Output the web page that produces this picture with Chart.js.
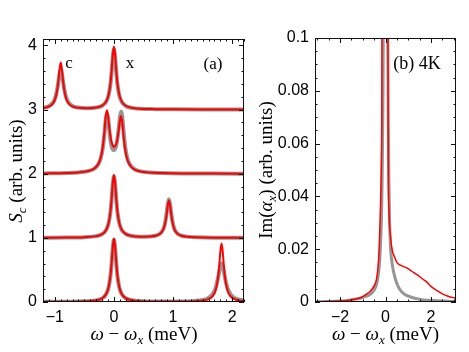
<!DOCTYPE html>
<html>
<head>
<meta charset="utf-8">
<script src="https://cdn.jsdelivr.net/npm/chart.js@4/dist/chart.umd.min.js"></script>
<style>
  html, body { margin: 0; padding: 0; background: #fff; }
  #wrap { position: relative; width: 469px; height: 352px; background: #fff; }
  canvas { position: absolute; top: 0; }
</style>
</head>
<body>
<div id="wrap">
  <canvas id="leftChart" width="250" height="352" style="left:0"></canvas>
  <canvas id="rightChart" width="219" height="352" style="left:250px"></canvas>
</div>
<script>
// ---- panel (a): S_c spectra, offset by 0,1,2,3 ----
var wTop  = [-1.2, -1.1, -1.03, -0.99, -0.96, -0.94, -0.92, -0.9, -0.88, -0.86, -0.84, -0.81, -0.77, -0.7, -0.6, -0.45, -0.3, -0.2, -0.13, -0.09, -0.06, -0.04, -0.02, 0, 0.02, 0.04, 0.06, 0.09, 0.13, 0.2, 0.3, 0.45, 0.7, 1.0, 1.5, 2.2];
var redTop  = [3.021, 3.045, 3.096, 3.174, 3.302, 3.448, 3.632, 3.733, 3.632, 3.448, 3.302, 3.175, 3.098, 3.048, 3.027, 3.021, 3.032, 3.062, 3.129, 3.234, 3.404, 3.600, 3.847, 3.982, 3.847, 3.599, 3.403, 3.233, 3.128, 3.059, 3.028, 3.013, 3.006, 3.003, 3.001, 3.0];
var grayTop = [3.026, 3.053, 3.111, 3.193, 3.313, 3.432, 3.561, 3.623, 3.561, 3.432, 3.313, 3.194, 3.113, 3.056, 3.031, 3.022, 3.031, 3.060, 3.124, 3.225, 3.387, 3.575, 3.812, 3.942, 3.812, 3.575, 3.387, 3.223, 3.122, 3.056, 3.026, 3.012, 3.006, 3.003, 3.001, 3.0];

var wPair = [-1.2, -0.8, -0.6, -0.45, -0.35, -0.28, -0.23, -0.19, -0.16, -0.14, -0.12, -0.1, -0.08, -0.05, -0.02, 0, 0.02, 0.05, 0.08, 0.1, 0.12, 0.14, 0.16, 0.19, 0.23, 0.28, 0.35, 0.45, 0.6, 0.8, 1.2, 1.7, 2.2];
var redPair  = [2.005, 2.011, 2.02, 2.038, 2.07, 2.13, 2.23, 2.41, 2.67, 2.88, 2.99, 2.91, 2.74, 2.53, 2.44, 2.42, 2.43, 2.50, 2.67, 2.82, 2.90, 2.81, 2.61, 2.37, 2.21, 2.12, 2.065, 2.035, 2.018, 2.01, 2.004, 2.002, 2.001];
var grayPair = [2.005, 2.011, 2.02, 2.038, 2.068, 2.125, 2.22, 2.39, 2.63, 2.83, 2.93, 2.87, 2.69, 2.47, 2.38, 2.37, 2.39, 2.49, 2.70, 2.87, 2.97, 2.90, 2.69, 2.42, 2.23, 2.13, 2.07, 2.037, 2.019, 2.01, 2.004, 2.002, 2.001];

var wMid = [-1.2, -0.8, -0.5, -0.3, -0.2, -0.13, -0.09, -0.06, -0.04, -0.02, 0, 0.02, 0.04, 0.06, 0.09, 0.13, 0.2, 0.3, 0.45, 0.6, 0.72, 0.8, 0.84, 0.87, 0.89, 0.91, 0.93, 0.95, 0.97, 0.99, 1.02, 1.06, 1.13, 1.23, 1.4, 1.7, 2.2];
var redMid  = [1.002, 1.004, 1.011, 1.027, 1.059, 1.127, 1.232, 1.403, 1.599, 1.846, 1.981, 1.846, 1.600, 1.404, 1.233, 1.128, 1.061, 1.030, 1.018, 1.020, 1.036, 1.079, 1.14, 1.241, 1.357, 1.503, 1.583, 1.503, 1.357, 1.241, 1.139, 1.077, 1.036, 1.018, 1.008, 1.003, 1.002];
var grayMid = [1.002, 1.004, 1.011, 1.027, 1.058, 1.125, 1.228, 1.395, 1.587, 1.829, 1.961, 1.829, 1.588, 1.397, 1.229, 1.126, 1.060, 1.030, 1.018, 1.021, 1.038, 1.083, 1.147, 1.255, 1.375, 1.524, 1.603, 1.524, 1.375, 1.255, 1.145, 1.080, 1.038, 1.019, 1.009, 1.003, 1.002];

var wLow = [-1.2, -0.8, -0.5, -0.3, -0.2, -0.13, -0.09, -0.06, -0.04, -0.02, 0, 0.02, 0.04, 0.06, 0.09, 0.13, 0.2, 0.3, 0.5, 0.8, 1.1, 1.35, 1.5, 1.6, 1.67, 1.72, 1.76, 1.78, 1.8, 1.82, 1.84, 1.86, 1.88, 1.92, 1.97, 2.04, 2.12, 2.2];
var redLow  = [0.002, 0.004, 0.010, 0.027, 0.058, 0.128, 0.234, 0.406, 0.604, 0.853, 0.990, 0.854, 0.605, 0.407, 0.235, 0.129, 0.060, 0.028, 0.011, 0.006, 0.006, 0.012, 0.023, 0.046, 0.092, 0.183, 0.374, 0.556, 0.785, 0.911, 0.785, 0.556, 0.374, 0.183, 0.092, 0.045, 0.025, 0.016];
var grayLow = [0.002, 0.004, 0.010, 0.026, 0.057, 0.125, 0.229, 0.398, 0.592, 0.836, 0.970, 0.837, 0.593, 0.399, 0.230, 0.126, 0.059, 0.028, 0.012, 0.007, 0.009, 0.017, 0.032, 0.065, 0.123, 0.221, 0.371, 0.471, 0.562, 0.601, 0.561, 0.470, 0.370, 0.220, 0.122, 0.064, 0.036, 0.023];

// ---- panel (b): Im(alpha_x) at 4K ----
var wRight = [-3.1, -2.5, -2.0, -1.6, -1.3, -1.05, -0.85, -0.7, -0.58, -0.48, -0.4, -0.33, -0.28, -0.24, -0.21, -0.18, -0.16, -0.14, -0.12, -0.08, -0.04, 0, 0.04, 0.08, 0.1, 0.12, 0.15, 0.18, 0.22, 0.27, 0.33, 0.4, 0.47, 0.55, 0.65, 0.8, 0.95, 1.1, 1.25, 1.4, 1.6, 1.8, 2.0, 2.25, 2.5, 2.75, 3.1];
var redAlpha  = [0.0001, 0.0002, 0.0004, 0.0007, 0.0011, 0.0018, 0.0029, 0.0038, 0.005, 0.0065, 0.0085, 0.013, 0.02, 0.03, 0.04, 0.055, 0.08, 0.2, 0.6, 0.4, 0.3, 0.3, 0.35, 0.5, 0.15, 0.055, 0.035, 0.029, 0.025, 0.021, 0.0185, 0.017, 0.0155, 0.0145, 0.014, 0.0134, 0.0128, 0.012, 0.0111, 0.0103, 0.0089, 0.0077, 0.0059, 0.0044, 0.0031, 0.0022, 0.0014];
var grayAlpha = [0.0001, 0.0002, 0.0004, 0.0007, 0.0011, 0.0016, 0.0022, 0.0028, 0.0036, 0.0048, 0.0065, 0.0095, 0.013, 0.018, 0.024, 0.031, 0.04, 0.052, 0.07, 0.15, 0.5, 1.0, 0.5, 0.15, 0.1, 0.07, 0.045, 0.031, 0.021, 0.016, 0.0125, 0.0098, 0.0078, 0.006, 0.0045, 0.0032, 0.0024, 0.0019, 0.0015, 0.0012, 0.0009, 0.0007, 0.0006, 0.0005, 0.0004, 0.0003, 0.0002];

var RED = '#ff0000';
var GRAY = 'rgb(150,150,150)';
var SERIF = '"Liberation Serif", "DejaVu Serif", serif';
var SANS = '"Liberation Sans", Arial, sans-serif';

function pts(xs, ys) {
	return xs.map(function(x, i) { return {x: x, y: ys[i]}; });
}

function curve(xs, ys, color, width, order) {
	return {
		data: pts(xs, ys),
		borderColor: color,
		borderWidth: width,
		pointRadius: 0,
		fill: false,
		cubicInterpolationMode: 'monotone',
		order: order
	};
}

function minusFmt(v) {
	return String(v).replace('-', '\u2212');
}

// frame with inward ticks on all four sides (Mathematica style)
var framePlugin = {
	id: 'frame',
	afterDatasetsDraw: function(chart, args, o) {
		var ctx = chart.ctx, a = chart.chartArea, sx = chart.scales.x, sy = chart.scales.y;
		ctx.save();
		ctx.strokeStyle = '#111';
		ctx.lineWidth = 1;
		ctx.strokeRect(a.left + 0.5, a.top + 0.5, a.right - a.left - 1, a.bottom - a.top - 1);
		ctx.beginPath();
		var n, v, p, len;
		for (n = Math.ceil(sx.min / o.xMinor - 1e-6); n * o.xMinor <= sx.max + 1e-9; n++) {
			v = n * o.xMinor;
			len = Math.abs(v / o.xMajor - Math.round(v / o.xMajor)) < 1e-6 ? 5 : 2.5;
			p = Math.round(sx.getPixelForValue(v)) + 0.5;
			ctx.moveTo(p, a.bottom); ctx.lineTo(p, a.bottom - len);
			ctx.moveTo(p, a.top); ctx.lineTo(p, a.top + len);
		}
		for (n = Math.ceil(sy.min / o.yMinor - 1e-6); n * o.yMinor <= sy.max + 1e-9; n++) {
			v = n * o.yMinor;
			len = Math.abs(v / o.yMajor - Math.round(v / o.yMajor)) < 1e-6 ? 5 : 2.5;
			p = Math.round(sy.getPixelForValue(v)) + 0.5;
			ctx.moveTo(a.left, p); ctx.lineTo(a.left + len, p);
			ctx.moveTo(a.right, p); ctx.lineTo(a.right - len, p);
		}
		ctx.stroke();
		ctx.restore();
	}
};

// text pieces with italics / subscripts, centred on (x, y) baseline
function drawRich(ctx, parts, x, y, rotate) {
	ctx.save();
	ctx.translate(x, y);
	if (rotate) ctx.rotate(-Math.PI / 2);
	ctx.fillStyle = '#000';
	ctx.textBaseline = 'alphabetic';
	ctx.textAlign = 'left';
	var w = 0;
	parts.forEach(function(p) { ctx.font = p.font; w += ctx.measureText(p.text).width; });
	var cx = -w / 2;
	parts.forEach(function(p) {
		ctx.font = p.font;
		ctx.fillText(p.text, cx, p.dy || 0);
		cx += ctx.measureText(p.text).width;
	});
	ctx.restore();
}

var labelPlugin = {
	id: 'labels',
	afterDraw: function(chart, args, o) {
		var ctx = chart.ctx;
		o.items.forEach(function(it) { drawRich(ctx, it.parts, it.x, it.y, it.rotate); });
	}
};

var xTitle = [
	{text: '\u03c9', font: 'italic 19px ' + SERIF},
	{text: ' \u2212 ', font: '19px ' + SERIF},
	{text: '\u03c9', font: 'italic 19px ' + SERIF},
	{text: 'x', font: 'italic 13px ' + SERIF, dy: 4},
	{text: ' (meV)', font: '19px ' + SERIF}
];

function fixedAxis(size, horizontal) {
	return function(scale) {
		if (horizontal) scale.height = size; else scale.width = size;
	};
}

function baseOptions(xr, yr, padRight, padTop, yWidth, frameOpts, items) {
	return {
		responsive: false,
		devicePixelRatio: 1,
		animation: false,
		layout: {padding: {left: 0, right: padRight, top: padTop, bottom: 0}},
		plugins: {
			legend: {display: false},
			tooltip: {enabled: false},
			frame: frameOpts,
			labels: {items: items}
		},
		scales: {
			x: {
				type: 'linear',
				min: xr[0], max: xr[1],
				grid: {display: false, drawTicks: false},
				border: {display: false},
				afterFit: fixedAxis(50, true),
				ticks: {
					stepSize: xr[2], includeBounds: false, padding: 6, color: '#000',
					font: {family: SANS, size: 16},
					callback: function(v) { return minusFmt(v); }
				}
			},
			y: {
				type: 'linear',
				min: yr[0], max: yr[1],
				grid: {display: false, drawTicks: false},
				border: {display: false},
				afterFit: fixedAxis(yWidth, false),
				ticks: {
					stepSize: yr[2], includeBounds: false, padding: 6, color: '#000',
					font: {family: SANS, size: 16},
					callback: function(v) { return minusFmt(Math.round(v * 1000) / 1000); }
				}
			}
		}
	};
}

var leftChart = new Chart(document.getElementById('leftChart'), {
	type: 'line',
	data: {
		datasets: [
			curve(wTop, redTop, RED, 2, 0),
			curve(wPair, redPair, RED, 2, 0),
			curve(wMid, redMid, RED, 2, 0),
			curve(wLow, redLow, RED, 2, 0),
			curve(wTop, grayTop, GRAY, 4, 1),
			curve(wPair, grayPair, GRAY, 4, 1),
			curve(wMid, grayMid, GRAY, 4, 1),
			curve(wLow, grayLow, GRAY, 4, 1)
		]
	},
	options: baseOptions([-1.2, 2.2, 1], [0, 4.1, 1], 6, 39, 43,
		{xMajor: 1, xMinor: 0.1, yMajor: 1, yMinor: 0.2},
		[
			{parts: xTitle, x: 144, y: 340},
			{parts: [
				{text: 'S', font: 'italic 19px ' + SERIF},
				{text: 'c', font: 'italic 13px ' + SERIF, dy: 4},
				{text: ' (arb. units)', font: '19px ' + SERIF}
			], x: 22, y: 171, rotate: true},
			{parts: [{text: 'c', font: '17px ' + SERIF}], x: 69, y: 68},
			{parts: [{text: 'x', font: '17px ' + SERIF}], x: 130, y: 68},
			{parts: [{text: '(a)', font: '17px ' + SERIF}], x: 213, y: 69}
		]),
	plugins: [framePlugin, labelPlugin]
});

var rightChart = new Chart(document.getElementById('rightChart'), {
	type: 'line',
	data: {
		datasets: [
			curve(wRight, redAlpha, RED, 1.5, 0),
			curve(wRight, grayAlpha, GRAY, 3, 1)
		]
	},
	options: baseOptions([-3.1, 3.1, 2], [0, 0.1, 0.02], 13, 38, 65,
		{xMajor: 2, xMinor: 0.5, yMajor: 0.02, yMinor: 0.005},
		[
			{parts: xTitle, x: 135.5, y: 340},
			{parts: [
				{text: 'Im(', font: '19px ' + SERIF},
				{text: '\u03b1', font: 'italic 19px ' + SERIF},
				{text: 'x', font: 'italic 13px ' + SERIF, dy: 4},
				{text: ') (arb. units)', font: '19px ' + SERIF}
			], x: 22, y: 170, rotate: true},
			{parts: [{text: '(b) 4K', font: '18px ' + SERIF}], x: 167, y: 69}
		]),
	plugins: [framePlugin, labelPlugin]
});
</script>
</body>
</html>
